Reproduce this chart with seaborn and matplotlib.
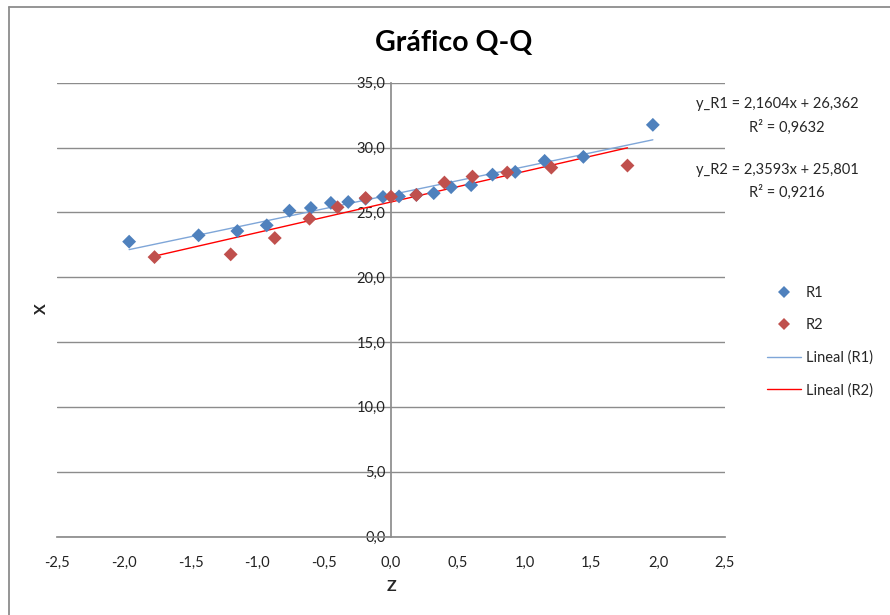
import matplotlib
matplotlib.use("Agg")
import matplotlib.pyplot as plt
from matplotlib.lines import Line2D
from matplotlib.ticker import FuncFormatter
import pandas as pd
import seaborn as sns

# Normal quantiles (Z) and sorted observations (X) for each sample
z_r1 = [-1.96, -1.44, -1.15, -0.93, -0.76, -0.60, -0.45, -0.32, -0.19, -0.06,
        0.06, 0.19, 0.32, 0.45, 0.60, 0.76, 0.93, 1.15, 1.44, 1.96]
x_r1 = [22.74, 23.23, 23.56, 24.00, 25.13, 25.34, 25.73, 25.80, 26.05, 26.19,
        26.23, 26.35, 26.48, 26.94, 27.10, 27.91, 28.12, 28.97, 29.28, 31.75]

z_r2 = [-1.77, -1.20, -0.87, -0.61, -0.40, -0.19, 0.00, 0.19, 0.40, 0.61,
        0.87, 1.20, 1.77]
x_r2 = [21.55, 21.76, 23.02, 24.51, 25.39, 26.11, 26.21, 26.34, 27.30, 27.76,
        28.07, 28.45, 28.61]

series_names = ["R1", "R2"]
trend_labels = ["Lineal (R1)", "Lineal (R2)"]
slopes = [2.1604, 2.3593]
intercepts = [26.362, 25.801]
r_squared = [0.9632, 0.9216]

x_ticks = [-2.5, -2.0, -1.5, -1.0, -0.5, 0.0, 0.5, 1.0, 1.5, 2.0, 2.5]
y_ticks = [0.0, 5.0, 10.0, 15.0, 20.0, 25.0, 30.0, 35.0]

marker_colors = ["#4F81BD", "#C0504D"]
line_colors = ["#7FA6D8", "#FF0000"]
grid_color = "#8C8C8C"

sns.set_theme(style="white")
plt.rcParams["font.family"] = ["Lato", "DejaVu Sans"]

W, H = 890, 615
fig = plt.figure(figsize=(W / 100, H / 100), dpi=100)
ax = fig.add_axes([57 / W, 1 - 536.5 / H, (725 - 57) / W, (536.5 - 82.7) / H])

points = pd.concat([
    pd.DataFrame({"Z": z_r1, "X": x_r1, "serie": series_names[0]}),
    pd.DataFrame({"Z": z_r2, "X": x_r2, "serie": series_names[1]}),
], ignore_index=True)

# Linear trend lines spanning each sample's quantile range
trend_rows = []
for zs, m, b, lab in zip([z_r1, z_r2], slopes, intercepts, trend_labels):
    for zz in (min(zs), max(zs)):
        trend_rows.append({"Z": zz, "X": m * zz + b, "linea": lab})
trends = pd.DataFrame(trend_rows)

sns.lineplot(data=trends, x="Z", y="X", hue="linea", palette=line_colors,
             linewidth=1.0, ax=ax, legend=False, zorder=2)
sns.scatterplot(data=points, x="Z", y="X", hue="serie", palette=marker_colors,
                marker="D", s=50, linewidth=0, ax=ax, legend=False, zorder=3)

ax.set_xlim(-2.5, 2.5)
ax.set_ylim(0, 35)
ax.set_xticks(x_ticks)
ax.set_yticks(y_ticks)
comma = FuncFormatter(lambda v, p: f"{v:.1f}".replace(".", ","))
ax.xaxis.set_major_formatter(comma)
ax.yaxis.set_major_formatter(comma)

ax.yaxis.grid(True, color=grid_color, linewidth=1.0)
ax.xaxis.grid(False)
for side in ("top", "right"):
    ax.spines[side].set_visible(False)
ax.spines["left"].set_position(("data", 0))
ax.spines["left"].set_color(grid_color)
ax.spines["bottom"].set_color(grid_color)
ax.spines["left"].set_zorder(1)
ax.tick_params(axis="both", length=0, labelsize=10.5, colors="#222222")
ax.tick_params(axis="x", pad=14)
ax.tick_params(axis="y", pad=4)
ax.set_xlabel("")
ax.set_ylabel("")

# Title and axis titles
fig.text(454 / W, 1 - 43 / H, "Gráfico Q-Q", ha="center", va="center",
         fontsize=20.5, fontweight="bold", color="#000000")
fig.text(391 / W, 1 - 587 / H, "Z", ha="center", va="center",
         fontsize=11.5, fontweight="bold")
fig.text(42 / W, 1 - 309 / H, "X", ha="center", va="center",
         fontsize=11.5, fontweight="bold", rotation=90)

# Trend equations
eq_y = [(104, 127), (170, 192)]
for name, m, b, r2, (y1, y2) in zip(series_names, slopes, intercepts, r_squared, eq_y):
    eq = f"y_{name} = {m:.4f}x + {b:.3f}".replace(".", ",")
    rr = f"R² = {r2:.4f}".replace(".", ",")
    fig.text(777 / W, 1 - y1 / H, eq, ha="center", va="center", fontsize=10.5)
    fig.text(787 / W, 1 - y2 / H, rr, ha="center", va="center", fontsize=10.5)

# Legend
handles = [
    Line2D([], [], marker="D", linestyle="none", markersize=6.5,
           markerfacecolor=marker_colors[0], markeredgewidth=0),
    Line2D([], [], marker="D", linestyle="none", markersize=6.5,
           markerfacecolor=marker_colors[1], markeredgewidth=0),
    Line2D([], [], color=line_colors[0], linewidth=1.0),
    Line2D([], [], color=line_colors[1], linewidth=1.0),
]
fig.legend(handles, series_names + trend_labels, loc="upper left",
           bbox_to_anchor=(754 / W, 1 - 273 / H), frameon=False,
           fontsize=10.5, handlelength=2.3, handletextpad=0.35,
           labelspacing=1.25)

# Chart area border
fig.add_artist(Line2D([9 / W, 9 / W], [0, 1 - 7 / H], transform=fig.transFigure,
                      color="#8C8C8C", linewidth=1.3))
fig.add_artist(Line2D([9 / W, 1], [1 - 7 / H, 1 - 7 / H], transform=fig.transFigure,
                      color="#8C8C8C", linewidth=1.3))

fig.savefig("out.png", dpi=100, facecolor="white")
